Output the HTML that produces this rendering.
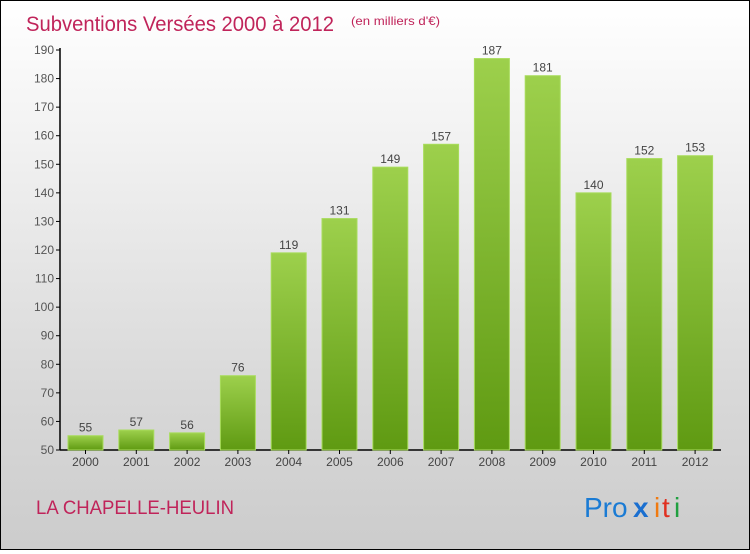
<!DOCTYPE html>
<html><head><meta charset="utf-8"><style>
html,body{margin:0;padding:0}
body{width:750px;height:550px;overflow:hidden}
#c{position:relative;width:748px;height:548px;border:1px solid #000;background:linear-gradient(#ffffff 0%,#f2f2f2 25%,#d9d9d9 70%,#cccccc 100%);font-family:"Liberation Sans",sans-serif}
</style></head><body>
<div id="c">
<svg id="s" width="748" height="548" xmlns="http://www.w3.org/2000/svg">
<defs><linearGradient id="g" x1="0" y1="0" x2="0" y2="1"><stop offset="0" stop-color="#9dd04c"/><stop offset="1" stop-color="#5f9a12"/></linearGradient></defs>
<text x="25" y="30" font-size="21" fill="#c0245a" textLength="308" lengthAdjust="spacingAndGlyphs">Subventions Versées 2000 à 2012</text>
<text x="350" y="24" font-size="12" fill="#c0245a" textLength="89" lengthAdjust="spacingAndGlyphs">(en milliers d'€)</text>
<text x="35" y="513" font-size="19" fill="#c0245a" textLength="198" lengthAdjust="spacingAndGlyphs">LA CHAPELLE-HEULIN</text>
<g font-size="28" font-family="Liberation Sans,sans-serif">
<text x="583" y="516" fill="#1a7bd4">Pro</text><text x="632" y="516" fill="#1a6fd0" font-weight="bold">x</text><text x="653" y="516" fill="#f07a10">i</text><text x="661" y="516" fill="#e03020">t</text><text x="673" y="516" fill="#20a040">i</text>
</g>
<g id="plot"></g>
</svg>
</div>
<script>
const categories=["2000","2001","2002","2003","2004","2005","2006","2007","2008","2009","2010","2011","2012"];
const values=[55,57,56,76,119,131,149,157,187,181,140,152,153];
const yTicks=[50,60,70,80,90,100,110,120,130,140,150,160,170,180,190];
const ns="http://www.w3.org/2000/svg";
const g=document.getElementById('plot');
const y0=449,yMin=50,yMax=190,yTop=49;
function y(v){return y0-(v-yMin)*(y0-yTop)/(yMax-yMin);}
function x(i){return 84.5+i*50.8;}
function el(t,a){const e=document.createElementNS(ns,t);for(const k in a)e.setAttribute(k,a[k]);g.appendChild(e);return e;}
const ax=el('line',{x1:59,y1:yTop-2,x2:59,y2:y0,stroke:'#000','stroke-width':1.5});


const bx=el('line',{x1:59,y1:y0,x2:720,y2:y0,stroke:'#000','stroke-width':1.5});


yTicks.forEach(v=>{
 const t=el('line',{x1:55,y1:y(v),x2:59,y2:y(v),stroke:'#000'});
 
 
 const l=el('text',{x:53,y:y(v)+4,'font-size':12,fill:'#555','text-anchor':'end'});l.textContent=v;
 
 
});
categories.forEach((c,i)=>{
 const v=values[i],cx=x(i);
 const r=el('rect',{x:cx-17.5,y:y(v),width:35,height:y0-y(v),fill:'url(#g)',stroke:'#a8dc5c','stroke-width':1});
 
 
 const t=el('line',{x1:cx,y1:y0,x2:cx,y2:y0+4,stroke:'#000'});
 
 
 const l=el('text',{x:cx,y:y0+16,'font-size':12,fill:'#444','text-anchor':'middle'});l.textContent=c;
 
 
 const vl=el('text',{x:cx,y:y(v)-4,'font-size':12,fill:'#444','text-anchor':'middle'});vl.textContent=v;
 
 
});
</script>
</body></html>
